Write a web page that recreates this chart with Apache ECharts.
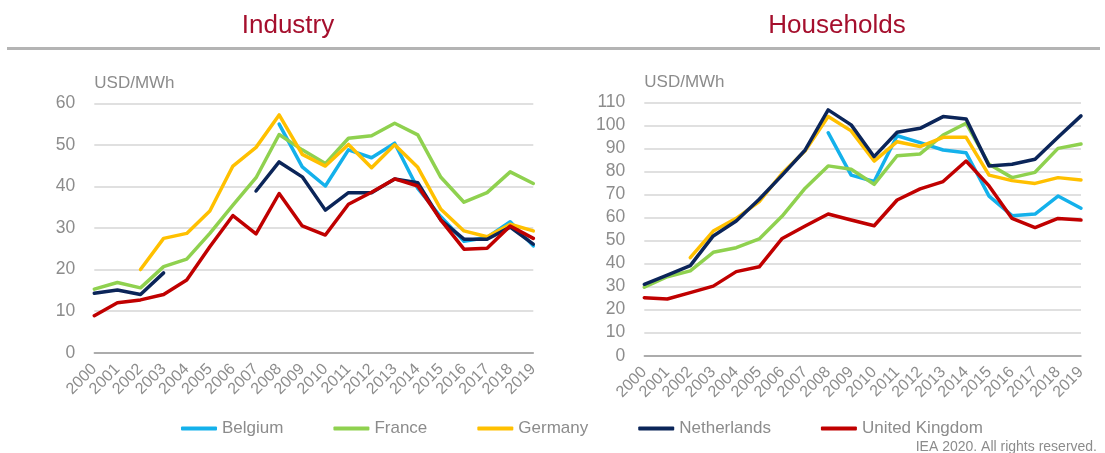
<!DOCTYPE html>
<html>
<head>
<meta charset="utf-8">
<script src="https://cdn.jsdelivr.net/npm/echarts@6/dist/echarts.min.js"></script>
<style>
  html, body { margin: 0; padding: 0; background: #ffffff; }
  #chart { width: 1105px; height: 453px; }
</style>
</head>
<body>
<div id="chart"></div>
<script>
// Years on the category axis
const years = ['2000','2001','2002','2003','2004','2005','2006','2007','2008','2009',
               '2010','2011','2012','2013','2014','2015','2016','2017','2018','2019'];

const countries = ['Belgium', 'France', 'Germany', 'Netherlands', 'United Kingdom'];
const countryColors = ['#14b1eb', '#8fd14f', '#ffc000', '#0b2559', '#c00000'];

// Industry electricity prices, USD/MWh (null = no data)
const industryBelgium     = [null, null, null, null, null, null, null, null, 55.0, 44.7, 40.1, 48.8, 46.9, 50.4, 39.5, 32.7, 26.8, 27.7, 31.5, 25.7];
const industryFrance      = [15.3, 16.9, 15.6, 20.7, 22.5, 28.7, 35.5, 42.1, 52.5, 48.8, 45.5, 51.6, 52.2, 55.2, 52.4, 42.2, 36.2, 38.5, 43.5, 40.7];
const industryGermany     = [null, null, 20.0, 27.5, 28.7, 34.1, 44.9, 49.4, 57.2, 47.7, 44.9, 50.1, 44.5, 50.0, 44.6, 34.5, 29.3, 27.9, 30.9, 29.3];
const industryNetherlands = [14.3, 15.1, 14.0, 19.2, null, null, null, 38.9, 45.9, 42.3, 34.3, 38.5, 38.5, 41.8, 40.9, 31.9, 27.3, 27.3, 30.2, 26.1];
const industryUK          = [8.9, 12.0, 12.7, 14.0, 17.5, 25.5, 33.0, 28.6, 38.3, 30.5, 28.3, 35.7, 38.6, 41.8, 40.1, 31.9, 24.9, 25.1, 30.5, 27.5];

// Household electricity prices, USD/MWh (null = no data)
const householdsBelgium     = [null, null, null, null, null, null, null, null, 96.8, 78.4, 75.6, 95.5, 92.5, 89.3, 88.1, 69.3, 60.8, 61.5, 69.3, 64.0];
const householdsFrance      = [29.7, 34.3, 36.8, 44.9, 46.9, 50.7, 60.6, 72.7, 82.4, 80.9, 74.4, 86.8, 87.6, 95.8, 100.9, 83.1, 77.3, 79.6, 90.0, 91.9];
const householdsGermany     = [null, null, 42.6, 54.1, 59.6, 66.9, 79.2, 89.0, 103.8, 97.6, 84.5, 92.9, 90.8, 94.8, 94.8, 78.4, 76.0, 74.8, 77.3, 76.3];
const householdsNetherlands = [31.0, 35.0, 39.1, 52.0, 58.5, 67.9, 78.4, 89.3, 106.7, 100.2, 86.4, 97.0, 98.7, 103.8, 102.8, 82.4, 83.1, 85.3, 94.8, 104.1];
const householdsUK          = [25.2, 24.6, 27.4, 30.2, 36.5, 38.6, 50.9, 56.3, 61.5, 58.9, 56.4, 67.6, 72.4, 75.6, 84.5, 73.7, 59.6, 55.6, 59.6, 58.9];

const industrySeries   = [industryBelgium, industryFrance, industryGermany, industryNetherlands, industryUK];
const householdsSeries = [householdsBelgium, householdsFrance, householdsGermany, householdsNetherlands, householdsUK];

const FONT = '"Liberation Sans", Arial, sans-serif';
const LABEL_GREY = '#8c8c8c';

function xAxisFor(gridIndex) {
  return {
    type: 'category',
    gridIndex: gridIndex,
    data: years,
    boundaryGap: false,
    axisLine: { lineStyle: { color: '#9a9a9a', width: 1.5 } },
    axisTick: { show: false },
    axisLabel: {
      rotate: 45, interval: 0, margin: 14,
      color: LABEL_GREY, fontSize: 16, fontFamily: FONT
    },
    splitLine: { show: false }
  };
}

function yAxisFor(gridIndex, max) {
  return {
    type: 'value',
    gridIndex: gridIndex,
    min: 0, max: max, interval: 10,
    name: 'USD/MWh',
    nameLocation: 'end',
    nameGap: 20,
    nameTextStyle: { align: 'left', verticalAlign: 'middle', color: LABEL_GREY, fontSize: 17, fontFamily: FONT },
    axisLine: { show: false },
    axisTick: { show: false },
    axisLabel: { margin: 19, color: LABEL_GREY, fontSize: 17.5, fontFamily: FONT },
    splitLine: { lineStyle: { color: '#d6d6d6', width: 1.5 } }
  };
}

function seriesFor(dataList, axisIndex) {
  return dataList.map((data, i) => ({
    name: countries[i],
    type: 'line',
    xAxisIndex: axisIndex,
    yAxisIndex: axisIndex,
    data: data,
    showSymbol: false,
    symbol: 'none',
    connectNulls: false,
    lineStyle: { color: countryColors[i], width: 3.5, cap: 'round', join: 'round' },
    itemStyle: { color: countryColors[i] },
    emphasis: { disabled: true },
    silent: true,
    animation: false
  }));
}

const chart = echarts.init(document.getElementById('chart'), null, { renderer: 'canvas' });

chart.setOption({
  backgroundColor: '#ffffff',
  animation: false,
  color: countryColors,
  grid: [
    { left: 94.3, right: 571.7, top: 103.3, bottom: 100.3, containLabel: false },
    { left: 644.3, right: 24, top: 102.3, bottom: 97.3, containLabel: false }
  ],
  xAxis: [xAxisFor(0), xAxisFor(1)],
  yAxis: [yAxisFor(0, 60), yAxisFor(1, 110)],
  legend: {
    data: countries.map((c, i) => ({ name: c, itemStyle: { color: countryColors[i] } })),
    left: 176, top: 415,
    icon: 'roundRect',
    itemWidth: 36, itemHeight: 4, itemGap: 50,
    textStyle: { color: LABEL_GREY, fontSize: 17, fontFamily: FONT }
  },
  graphic: [
    {
      type: 'text', x: 288, y: 26,
      style: { text: 'Industry', fill: '#a50f2d', font: '26px ' + FONT, align: 'center', verticalAlign: 'middle' }
    },
    {
      type: 'text', x: 837, y: 26,
      style: { text: 'Households', fill: '#a50f2d', font: '26px ' + FONT, align: 'center', verticalAlign: 'middle' }
    },
    {
      type: 'line',
      shape: { x1: 7, y1: 48.5, x2: 1100, y2: 48.5 },
      style: { stroke: '#b4b4b4', lineWidth: 3 }
    },
    {
      type: 'text', x: 1097, y: 447,
      style: { text: 'IEA 2020. All rights reserved.', fill: LABEL_GREY, font: '14px ' + FONT, align: 'right', verticalAlign: 'middle' }
    }
  ],
  series: seriesFor(industrySeries, 0).concat(seriesFor(householdsSeries, 1))
});
</script>
</body>
</html>
